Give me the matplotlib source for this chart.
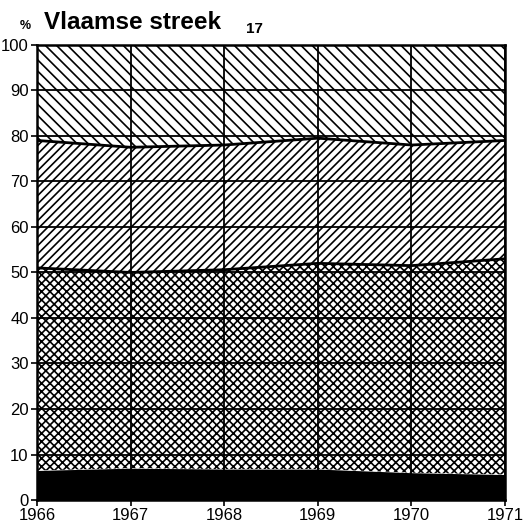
import numpy as np
import matplotlib.pyplot as plt

plt.rcParams['font.family'] = ['Liberation Sans', 'DejaVu Sans']
plt.rcParams['hatch.linewidth'] = 1.2

years = [1966, 1967, 1968, 1969, 1970, 1971]
# cumulative upper borders (%) of each band
black_top = [6.5, 7.0, 6.8, 6.8, 6.0, 5.6]
cross_top = [51.0, 50.0, 50.6, 52.0, 51.5, 53.0]
diag_top = [79.0, 77.5, 78.0, 79.5, 78.0, 79.0]
total = [100, 100, 100, 100, 100, 100]

fig = plt.figure(figsize=(5.26, 5.28), dpi=100)
ax = fig.add_axes([0.0703, 0.053, 0.890, 0.862])

ax.fill_between(years, 0, black_top, color='black', lw=0)
ax.fill_between(years, black_top, cross_top, facecolor='white', edgecolor='black',
                hatch='xxxx', lw=0)
ax.fill_between(years, cross_top, diag_top, facecolor='white', edgecolor='black',
                hatch='////', lw=0)
ax.fill_between(years, diag_top, total, facecolor='white', edgecolor='black',
                hatch='\\\\\\', lw=0)
ax.plot(years, cross_top, color='black', lw=2)
ax.plot(years, diag_top, color='black', lw=2)

ax.set_xlim(1966, 1971)
ax.set_ylim(0, 100)
ax.set_xticks(years)
ax.set_yticks(range(0, 101, 10))
ax.tick_params(axis='both', labelsize=12, length=4, width=1.2, direction='out', pad=2)
ax.grid(True, color='black', lw=1.3)
ax.set_axisbelow(False)
for s in ax.spines.values():
    s.set_linewidth(1.8)

fig.text(0.038, 0.945, '%', fontsize=9, fontweight='bold', va='baseline')
fig.text(0.083, 0.945, 'Vlaamse streek', fontsize=17.5, fontweight='bold', va='baseline')
fig.text(0.467, 0.938, '17', fontsize=11, fontweight='bold', va='baseline')

fig.savefig('out.png', dpi=100)
